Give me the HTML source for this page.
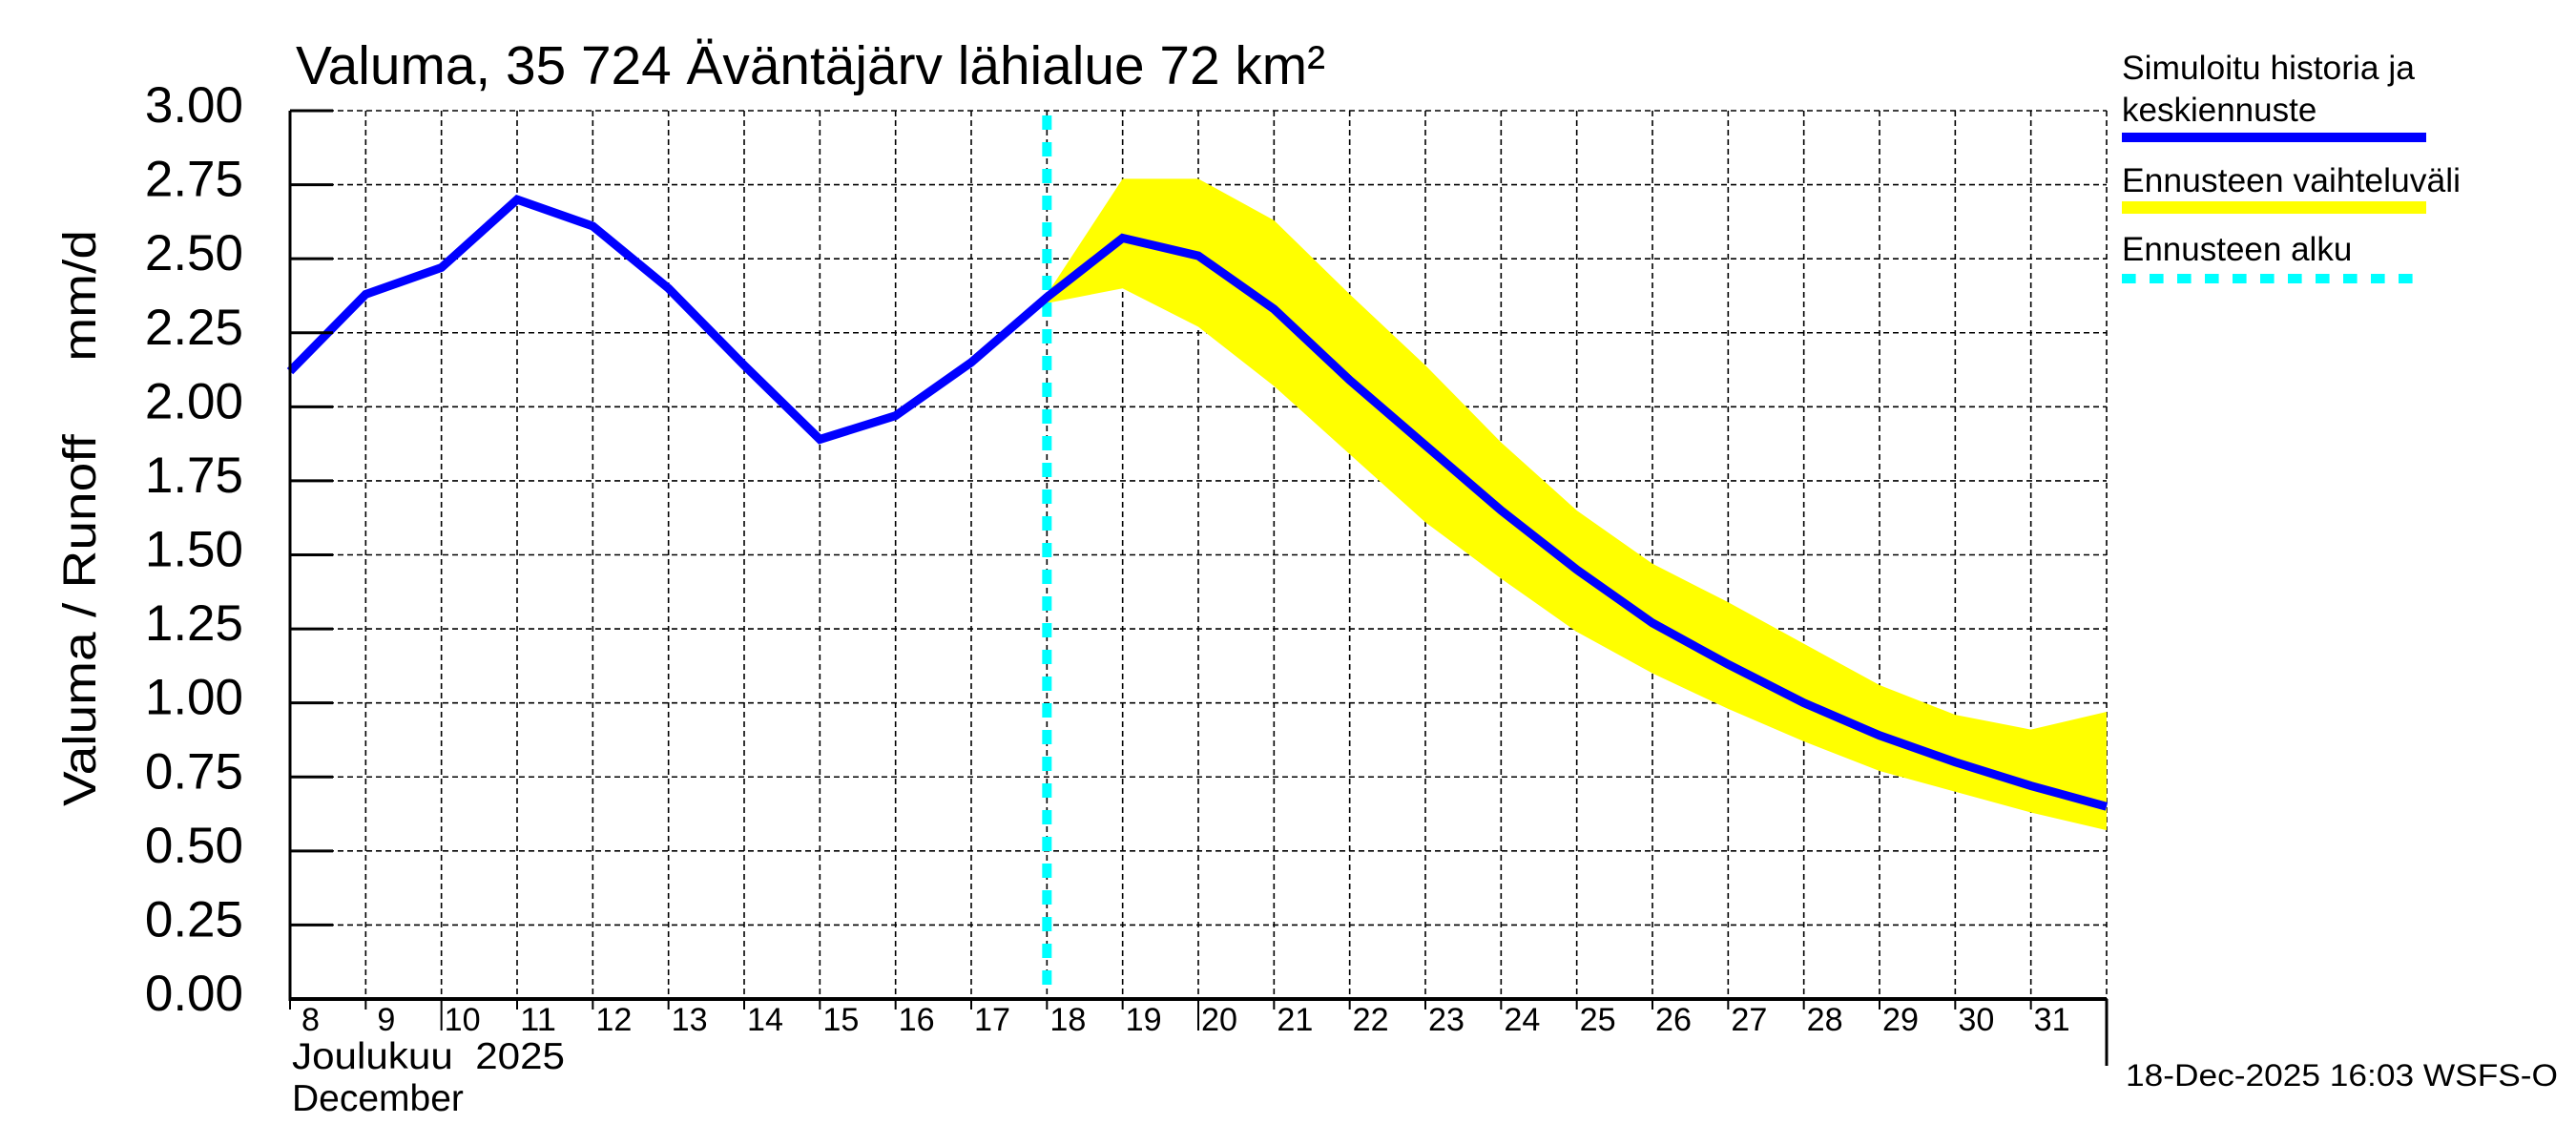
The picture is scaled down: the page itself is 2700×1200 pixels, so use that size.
<!DOCTYPE html>
<html><head><meta charset="utf-8"><style>
html,body{margin:0;padding:0;background:#fff;}
svg{display:block;font-family:"Liberation Sans",sans-serif;}
</style></head><body>
<svg id="chart" width="2700" height="1200" viewBox="0 0 2700 1200" xmlns="http://www.w3.org/2000/svg">
<text x="310" y="88" font-size="57" textLength="1079" lengthAdjust="spacingAndGlyphs">Valuma, 35 724 Äväntäjärv lähialue 72 km²</text>
<text transform="translate(100,845) rotate(-90)" font-size="48" textLength="604" lengthAdjust="spacingAndGlyphs" xml:space="preserve">Valuma / Runoff     mm/d</text>
<g id="grid"></g>
<g id="band"></g>
<g id="series"></g>
<g id="axes"></g>
<text x="306" y="1120" font-size="39" textLength="286" lengthAdjust="spacingAndGlyphs" xml:space="preserve">Joulukuu  2025</text>
<text x="306" y="1164" font-size="39">December</text>
<text x="2228" y="1138" font-size="32" textLength="453" lengthAdjust="spacingAndGlyphs">18-Dec-2025 16:03 WSFS-O</text>
<g>
<text x="2224" y="83" font-size="35" textLength="307" lengthAdjust="spacingAndGlyphs">Simuloitu historia ja</text>
<text x="2224" y="127" font-size="35">keskiennuste</text>
<rect x="2224" y="139" width="319" height="10" fill="#0000ff"/>
<text x="2224" y="201" font-size="35" textLength="355" lengthAdjust="spacingAndGlyphs">Ennusteen vaihteluväli</text>
<rect x="2224" y="211" width="319" height="13" fill="#ffff00"/>
<text x="2224" y="273" font-size="35">Ennusteen alku</text>
<line x1="2224" y1="292" x2="2543" y2="292" stroke="#00ffff" stroke-width="10" stroke-dasharray="14.6 14.4"/>
</g>
</svg>
<script>
const days = [8,9,10,11,12,13,14,15,16,17,18,19,20,21,22,23,24,25,26,27,28,29,30,31,32];
const simulated = [2.12,2.38,2.47,2.70,2.61,2.40,2.14,1.89,1.97,2.15,2.37,2.57,2.51,2.33,2.09,1.87,1.65,1.45,1.27,1.13,1.00,0.89,0.80,0.72,0.65];
const bandDays = [18,19,20,21,22,23,24,25,26,27,28,29,30,31,32];
const bandUpper = [2.38,2.77,2.77,2.63,2.38,2.14,1.88,1.65,1.47,1.34,1.20,1.06,0.96,0.91,0.97];
const bandLower = [2.35,2.40,2.27,2.07,1.84,1.61,1.42,1.24,1.10,0.98,0.87,0.77,0.70,0.63,0.57];
const yTicks = [0,0.25,0.5,0.75,1,1.25,1.5,1.75,2,2.25,2.5,2.75,3];
const yTickLabels = ["0.00","0.25","0.50","0.75","1.00","1.25","1.50","1.75","2.00","2.25","2.50","2.75","3.00"];
const xTickDays = [8,9,10,11,12,13,14,15,16,17,18,19,20,21,22,23,24,25,26,27,28,29,30,31];
const forecastStartDay = 18;

const NS="http://www.w3.org/2000/svg";
const X0=304, X1=2208, Y0=1047, Y1=116, D0=8, D1=32, V1=3;
const xs=d=>X0+(d-D0)*(X1-X0)/(D1-D0);
const ys=v=>Y0-v*(Y0-Y1)/V1;
function mk(tag,attrs,parent){const e=document.createElementNS(NS,tag);for(const k in attrs)e.setAttribute(k,attrs[k]);parent.appendChild(e);return e;}
const grid=document.getElementById('grid'), axes=document.getElementById('axes'), band=document.getElementById('band'), series=document.getElementById('series');

yTicks.forEach((v,i)=>{
  const y=ys(v);
  if(v>0){const l=mk('line',{x1:X0,y1:y,x2:X1,y2:y,stroke:'#000','stroke-width':1.6,'stroke-dasharray':'6 4'},grid);
  
  }
  const t=mk('line',{x1:X0,y1:y,x2:X0+45,y2:y,stroke:'#000','stroke-width':3},axes);
  
  
  const tx=mk('text',{x:255,y:y+12,'font-size':53,'text-anchor':'end'},axes);
  tx.textContent=yTickLabels[i];
  
  
});
for(let d=D0+1; d<=D1; d++){
  const l=mk('line',{x1:xs(d),y1:Y1,x2:xs(d),y2:Y0,stroke:'#000','stroke-width':1.6,'stroke-dasharray':'6 4'},grid);
  
  
}
xTickDays.forEach(d=>{
  const x=xs(d);
  const long=(d===10||d===20);
  const t=mk('line',{x1:x,y1:Y0,x2:x,y2:long?1080:1058,stroke:'#000','stroke-width':2},axes);
  
  
  const tx=mk('text',{x:x+(d<10?12:3),y:1080,'font-size':34,textLength:d<10?19:38,lengthAdjust:'spacingAndGlyphs'},axes);
  tx.textContent=String(d);
  
  
});
let pts=bandDays.map((d,i)=>xs(d)+','+ys(bandUpper[i]));
for(let i=bandDays.length-1;i>=0;i--)pts.push(xs(bandDays[i])+','+ys(bandLower[i]));
const poly=mk('polygon',{points:pts.join(' '),fill:'#ffff00'},band);


const fs=mk('line',{x1:xs(forecastStartDay),y1:Y1+5,x2:xs(forecastStartDay),y2:Y0,stroke:'#00ffff','stroke-width':10,'stroke-dasharray':'15 13'},series);


const pl=mk('polyline',{points:days.map((d,i)=>xs(d)+','+ys(simulated[i])).join(' '),fill:'none',stroke:'#0000ff','stroke-width':9,'stroke-linejoin':'miter'},series);


const la=mk('line',{x1:X0,y1:Y1,x2:X0,y2:Y0+2,stroke:'#000','stroke-width':3},axes);


const ba=mk('line',{x1:X0,y1:Y0,x2:X1,y2:Y0,stroke:'#000','stroke-width':4},axes);


const ra=mk('line',{x1:X1,y1:Y0,x2:X1,y2:1117,stroke:'#000','stroke-width':3},axes);


</script>
</body></html>
